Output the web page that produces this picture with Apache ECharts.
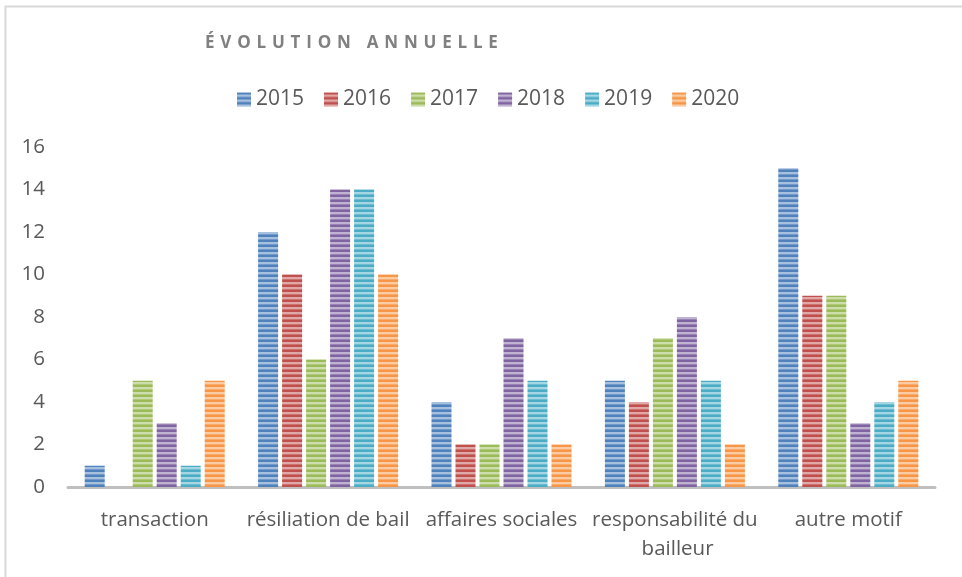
<!DOCTYPE html>
<html>
<head>
<meta charset="utf-8">
<script src="https://cdn.jsdelivr.net/npm/echarts@6/dist/echarts.min.js"></script>
<style>
  html, body { margin: 0; padding: 0; background: #fff; }
  #wrap { position: relative; width: 962px; height: 577px; }
  #chart { width: 962px; height: 577px; }
  #title {
    position: absolute; left: 205px; top: 30px;
    font: bold 17px "Open Sans", sans-serif;
    letter-spacing: 5.8px; color: #808080;
  }
</style>
</head>
<body>
<div id="wrap">
  <div id="chart"></div>
  <div id="title">ÉVOLUTION ANNUELLE</div>
</div>
<script>
// chart values
const categories = ['transaction', 'résiliation de bail', 'affaires sociales', 'responsabilité du bailleur', 'autre motif'];
const years = ['2015', '2016', '2017', '2018', '2019', '2020'];
const v2015 = [1, 12, 4, 5, 15];
const v2016 = [0, 10, 2, 4, 9];
const v2017 = [5, 6, 2, 7, 9];
const v2018 = [3, 14, 7, 8, 3];
const v2019 = [1, 14, 5, 5, 4];
const v2020 = [5, 10, 2, 2, 5];
const yTicks = [0, 2, 4, 6, 8, 10, 12, 14, 16];

const values = [v2015, v2016, v2017, v2018, v2019, v2020];
const colors = ['#4f81bd', '#c0504d', '#9bbb59', '#8064a2', '#4bacc6', '#f79646'];

// horizontal stripe fill like the office "narrow horizontal" pattern
function stripes(hex) {
  const c = document.createElement('canvas');
  c.width = 4; c.height = 5;
  const ctx = c.getContext('2d');
  ctx.fillStyle = hex;
  ctx.fillRect(0, 0, 4, 5);
  ctx.fillStyle = 'rgba(255,255,255,0.5)';
  ctx.fillRect(0, 2, 4, 2);
  ctx.fillStyle = 'rgba(255,255,255,0.2)';
  ctx.fillRect(0, 4, 4, 1);
  return { image: c, repeat: 'repeat' };
}

const font = '"Open Sans", sans-serif';
const chart = echarts.init(document.getElementById('chart'));

chart.setOption({
  animation: false,
  backgroundColor: '#fff',
  textStyle: { fontFamily: font },
  graphic: [{
    type: 'rect', left: 3, top: 4,
    shape: { width: 980, height: 600 },
    style: { fill: 'none', stroke: '#d9d9d9', lineWidth: 2 }
  }],
  legend: {
    top: 84, left: 232,
    itemWidth: 14, itemHeight: 14, itemGap: 20,
    icon: 'rect',
    textStyle: { fontSize: 21, color: '#595959', fontFamily: font },
    data: years
  },
  grid: { left: 68, right: 27, top: 147, bottom: 90, containLabel: false },
  xAxis: {
    type: 'category',
    data: categories,
    axisLine: { lineStyle: { color: '#bfbfbf', width: 3 } },
    axisTick: { show: false },
    axisLabel: {
      interval: 0, margin: 19, fontSize: 20.5, color: '#595959',
      width: 180, overflow: 'break', lineHeight: 29, fontFamily: font
    }
  },
  yAxis: {
    type: 'value', min: 0, max: 16, interval: 2,
    splitLine: { show: false },
    axisLine: { show: false },
    axisLabel: {
      margin: 23, fontSize: 20.5, color: '#595959', fontFamily: font,
      formatter: v => yTicks.includes(v) ? String(v) : ''
    }
  },
  series: years.map((y, i) => ({
    name: y,
    type: 'bar',
    data: values[i],
    barWidth: 20,
    barGap: '20%',
    itemStyle: { color: stripes(colors[i]) }
  }))
});
</script>
</body>
</html>
